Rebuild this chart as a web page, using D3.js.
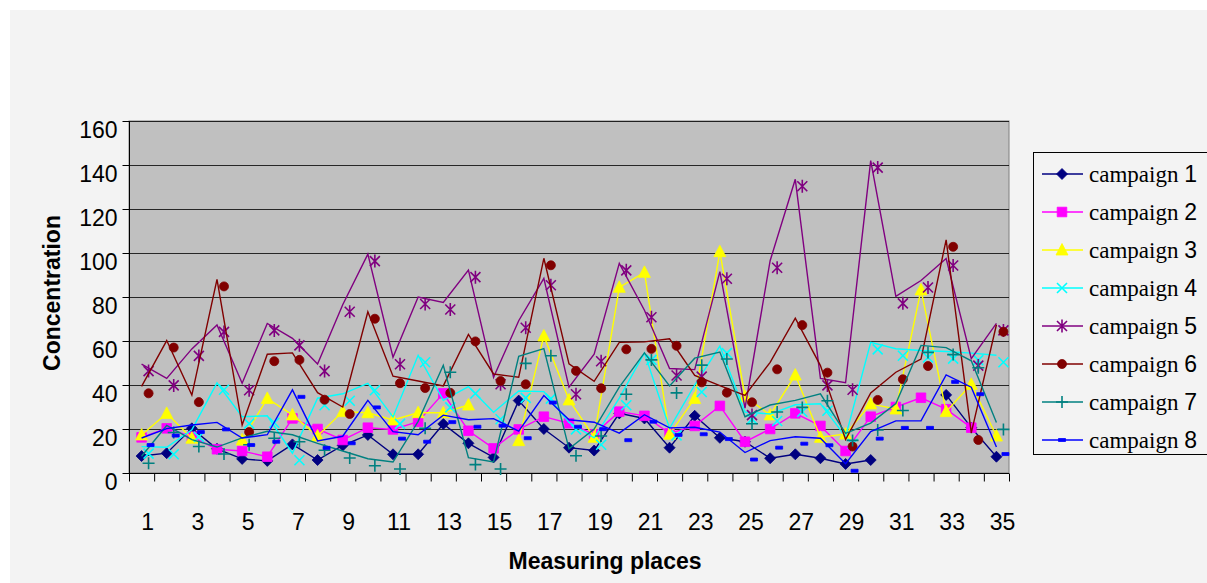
<!DOCTYPE html>
<html>
<head>
<meta charset="utf-8">
<script src="https://cdn.jsdelivr.net/npm/d3@7"></script>
<style>
  html, body { margin: 0; padding: 0; background: #ffffff; }
  svg { display: block; }
</style>
</head>
<body>
<svg id="chart" width="1207" height="583"></svg>
<script>
// Measuring places 1..35
const places = d3.range(1, 36);

// Concentration per campaign (null = no measurement)
const campaign1 = [7.7, 9, 20.3, 11, 6.4, 5.5, 13, 5.9, 12.5, 17.3, 8.5, 8.5, 22.3, 13.5, 7.1, 32.9, 20, 11.5, 10.2, 27.1, 24.8, 11.5, 26, 16, 14.2, 6.7, 8.5, 6.7, 4.1, 5.9, null, null, 35.5, 20.6, 7.4];
const campaign2 = [16.2, 20.3, 16.5, 10.8, 10, 7.4, 24.8, 20, 15, 20.6, 19.8, 23.3, 36.2, 19.2, 11.2, 19.8, 25.6, 22.6, 17.6, 27.9, 26, 18, 21.4, 30.5, 14.2, 20, 27.1, 21.4, 10, 25.6, 30, 34.2, 29, 20.6, null];
const campaign3 = [17.3, 27.1, 15.8, null, 15, 33.9, 26.4, 16.8, 27.9, 27.4, 24.1, 27.4, 27.4, 30.9, null, 14.7, 62.3, 33.2, 16.2, 84.4, 91.2, 17.6, 33.9, 100.6, 34.7, 26.4, 44.5, 16.2, 17.7, 31.4, 29.1, 83.2, 27.9, 40.3, 16.8];
const campaign4 = [12, 11.7, 19.6, 41, 25.6, 26, 9, 34, 36, 40.8, 25.5, 53.5, 33, 39.3, 27.6, 37.3, 37, 23, 16, 34, 54.6, 20.3, 40, 57.7, 27.7, 26.8, 31, 31.5, 16.5, 59.4, 56.5, 55.7, 55.2, 54.5, 53.5];
const campaign5 = [49.5, 43, 56.4, 67.3, 40.8, 68, 61.2, 49.5, 76.5, 99.5, 52.6, 80, 77.5, 92.2, 43.5, 69.2, 88.5, 39, 54, 95.3, 74, 47.5, 47, 91.5, 29.5, 96.5, 133.5, 43, 41, 142, 80.3, 87.5, 97.5, 52, 68];
const campaign6 = [39.4, 60.2, 35.4, 88, 21.8, 54, 54.6, 36.5, 30, 73.3, 44, 41.8, 39.6, 63, 45, 43.5, 97.6, 49.6, 41.7, 59.4, 59.6, 61, 44.4, 39.7, 35.3, 50.3, 70.4, 48.8, 15.2, 36.4, 45.8, 51.8, 106, 18.2, 67.4];
const campaign7 = [7.6, 21.6, 15.2, 11.8, 16, 19, 17.4, 13.5, 10, 6.5, 5, 23.5, 49, 7, 5, 53, 56.5, 11, 20, 39, 54.6, 39.6, 52.2, 55, 25.6, 30.9, 33, 36, 18, 22.7, 31.6, 58, 57, 51, 23];
const campaign8 = [15.9, 20.2, 21.8, 23, 15.9, 17.4, 37.8, 14.6, 16.7, 33, 18.8, 17.4, 26.3, 24.2, 24.7, 19, 35.2, 24.2, 23.1, 18.1, 26.5, 20.5, 20.8, 18.6, 9.3, 14.7, 16.5, 15.8, 4.2, 18.8, 23.7, 23.7, 44.6, 39, 11.8];

const seriesNames = ["campaign 1", "campaign 2", "campaign 3", "campaign 4", "campaign 5", "campaign 6", "campaign 7", "campaign 8"];
const seriesValues = [campaign1, campaign2, campaign3, campaign4, campaign5, campaign6, campaign7, campaign8];
const seriesColors = ["#000080", "#ff00ff", "#ffff00", "#00ffff", "#800080", "#800000", "#008080", "#0000ff"];
const seriesMarkers = ["diamond", "square", "triangle", "x", "asterisk", "circle", "plus", "dash"];

const yTickValues = [0, 20, 40, 60, 80, 100, 120, 140, 160];
const xTickLabels = places.filter(p => p % 2 === 1);

const xTitle = "Measuring places";
const yTitle = "Concentration";

// ---- layout ----
const W = 1207, H = 583;
const plot = { left: 129, right: 1009, top: 121, bottom: 473 };
const numFont = "'Liberation Sans', Arial, sans-serif";
const serifFont = "'Liberation Serif', 'Times New Roman', serif";

const svg = d3.select("#chart");

// chart background
svg.append("rect").attr("x", 0).attr("y", 0).attr("width", W).attr("height", H).attr("fill", "#ffffff");
svg.append("rect").attr("x", 10).attr("y", 10).attr("width", W - 10).attr("height", H - 10).attr("fill", "#f3f3f3");

const x = d3.scaleBand().domain(places).range([plot.left, plot.right]).paddingInner(0).paddingOuter(0);
const xc = d => x(d) + x.bandwidth() / 2;
const xEdge = d3.scaleLinear().domain([0, places.length]).range([plot.left, plot.right]);
const y = d3.scaleLinear().domain([0, 160]).range([plot.bottom, plot.top]);

// plot area
svg.append("rect")
  .attr("x", plot.left).attr("y", plot.top)
  .attr("width", plot.right - plot.left).attr("height", plot.bottom - plot.top)
  .attr("fill", "#c0c0c0")
  .attr("stroke", "#808080").attr("stroke-width", 1);

// horizontal gridlines
svg.append("g")
  .selectAll("line")
  .data(yTickValues.filter(v => v > 0))
  .join("line")
  .attr("x1", plot.left).attr("x2", plot.right)
  .attr("y1", d => Math.round(y(d)) + 0.5).attr("y2", d => Math.round(y(d)) + 0.5)
  .attr("stroke", "#000").attr("stroke-width", 1.2).attr("stroke-opacity", 0.8);

// y axis (labels sit slightly below their ticks)
const yAxis = svg.append("g")
  .attr("transform", `translate(${plot.left + 0.5},0)`)
  .call(d3.axisLeft(y).tickValues(yTickValues).tickSize(7).tickPadding(5).tickFormat(d3.format("d")));
yAxis.select(".domain").attr("stroke", "#000").attr("d", `M0,${plot.top}V${plot.bottom + 7}`);
yAxis.selectAll(".tick line").attr("stroke", "#000");
yAxis.selectAll(".tick text")
  .attr("font-family", numFont).attr("font-size", 23).attr("fill", "#000")
  .attr("dy", "0.36em").attr("transform", "translate(0,8)");

// x axis: tick marks on category boundaries
const xTicks = svg.append("g")
  .attr("transform", `translate(0,${plot.bottom + 0.5})`)
  .call(d3.axisBottom(xEdge).tickValues(d3.range(0, places.length + 1)).tickSize(8).tickFormat(""));
xTicks.select(".domain").attr("stroke", "#000").attr("d", `M${plot.left},0H${plot.right}`);
xTicks.selectAll(".tick line").attr("stroke", "#000");

// x axis labels at every second place
const xLabels = svg.append("g")
  .attr("transform", `translate(6,${plot.bottom})`)
  .call(d3.axisBottom(x).tickValues(xTickLabels).tickSize(0).tickPadding(57));
xLabels.select(".domain").remove();
xLabels.selectAll(".tick text").attr("font-family", numFont).attr("font-size", 23).attr("fill", "#000").attr("dy", 0);

// axis titles
svg.append("text")
  .attr("x", 605).attr("y", 569)
  .attr("text-anchor", "middle")
  .attr("font-family", numFont).attr("font-weight", "bold").attr("font-size", 23)
  .text(xTitle);
svg.append("text")
  .attr("transform", "translate(60,293) rotate(-90)")
  .attr("text-anchor", "middle")
  .attr("font-family", numFont).attr("font-weight", "bold").attr("font-size", 23)
  .text(yTitle);

// marker shapes
function markerPath(kind) {
  switch (kind) {
    case "diamond": return "M0,-5.5L5.5,0L0,5.5L-5.5,0Z";
    case "square": return "M-4.8,-4.8H4.8V4.8H-4.8Z";
    case "triangle": return "M0,-6.5L6,5L-6,5Z";
    case "x": return "M-5,-5L5,5M-5,5L5,-5";
    case "asterisk": return "M-5,-5L5,5M-5,5L5,-5M0,-6.5V6.5";
    case "circle": return d3.symbol(d3.symbolCircle, 64)();
    case "plus": return "M-6,0H6M0,-6V6";
    case "dash": return "M-3.5,-1.5H3.5V1.5H-3.5Z";
  }
}
const strokeMarkers = new Set(["x", "asterisk", "plus"]);
// marker placement shift (in px) per series relative to its polyline
const markerShift = [[0, 0], [0, 0], [0, 0], [7, 7], [7, 7], [7, 7], [7, 7], [9, 7]];

function drawMarker(sel, kind, color) {
  sel.append("path")
    .attr("d", markerPath(kind))
    .attr("fill", strokeMarkers.has(kind) ? "none" : color)
    .attr("stroke", color)
    .attr("stroke-width", strokeMarkers.has(kind) ? 1.6 : 0.8);
}

const line = d3.line()
  .defined(d => d.v !== null)
  .x(d => xc(d.p))
  .y(d => y(d.v));

const seriesG = svg.append("g");
seriesValues.forEach((vals, i) => {
  const pts = places.map((p, k) => ({ p, v: vals[k] }));
  const g = seriesG.append("g");
  g.append("path")
    .attr("d", line(pts))
    .attr("fill", "none")
    .attr("stroke", seriesColors[i])
    .attr("stroke-width", 1.4)
    .attr("stroke-linejoin", "miter");
  const mg = g.append("g").attr("transform", `translate(${markerShift[i][0]},${markerShift[i][1]})`);
  mg.selectAll("g")
    .data(pts.filter(d => d.v !== null))
    .join("g")
    .attr("transform", d => `translate(${xc(d.p)},${y(d.v)})`)
    .each(function () { drawMarker(d3.select(this), seriesMarkers[i], seriesColors[i]); });
});

// legend
const legend = svg.append("g");
legend.append("rect")
  .attr("x", 1033.5).attr("y", 152.5).attr("width", 190).attr("height", 302)
  .attr("fill", "#f3f3f3").attr("stroke", "#000").attr("stroke-width", 1);
seriesNames.forEach((name, i) => {
  const cy = 174 + i * 38;
  const item = legend.append("g");
  item.append("line")
    .attr("x1", 1042).attr("x2", 1083).attr("y1", cy).attr("y2", cy)
    .attr("stroke", seriesColors[i]).attr("stroke-width", 1.4);
  drawMarker(item.append("g").attr("transform", `translate(1062,${cy})`), seriesMarkers[i], seriesColors[i]);
  const parts = name.split(" ");
  const t = item.append("text").attr("x", 1089).attr("y", cy + 8).attr("font-size", 23).attr("fill", "#000");
  t.append("tspan").attr("font-family", serifFont).text(parts[0] + " ");
  t.append("tspan").attr("font-family", numFont).text(parts[1]);
});
</script>
</body>
</html>
